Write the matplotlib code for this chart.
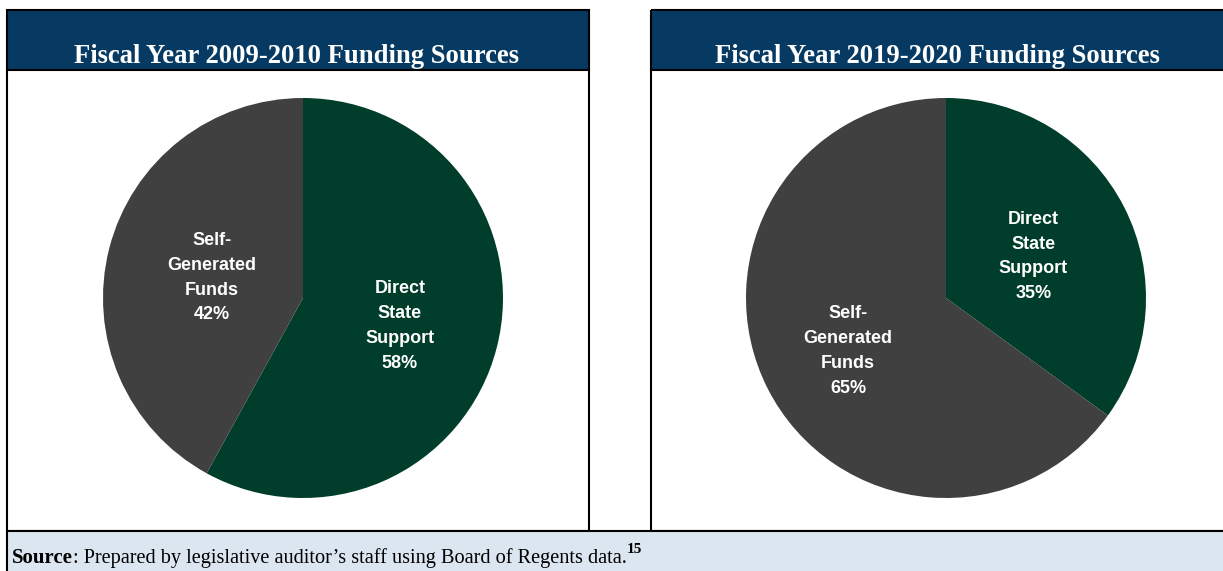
import numpy as np
from matplotlib import pyplot as plt
from matplotlib.patches import Rectangle

# data
titles = ['Fiscal Year 2009-2010 Funding Sources', 'Fiscal Year 2019-2020 Funding Sources']
categories = ['Direct\nState\nSupport', 'Self-\nGenerated\nFunds']
shares_2010 = [58, 42]
shares_2020 = [35, 65]
source_note = 'Prepared by legislative auditor\u2019s staff using Board of Regents data.'
footnote = '15'

# style
W, H = 1223, 571
navy = '#063a63'
green = '#003d2a'
gray = '#404040'
band = '#dce6f1'
label_dist = [[0.5, 0.47], [0.49, 0.55]]

fig = plt.figure(figsize=(W / 100, H / 100), dpi=100)
bg = fig.add_axes([0, 0, 1, 1])
bg.set_xlim(0, W)
bg.set_ylim(H, 0)
bg.axis('off')

panels = [(7, 589), (651, 1226)]
top, head_bot, body_bot = 10, 70, 531

for (x0, x1), title in zip(panels, titles):
    bg.add_patch(Rectangle((x0, top), x1 - x0, head_bot - top, facecolor=navy, edgecolor='none'))
    bg.add_patch(Rectangle((x0, top), x1 - x0, body_bot - top, facecolor='none',
                           edgecolor='black', linewidth=1.5))
    bg.plot([x0, x1], [head_bot, head_bot], color='black', linewidth=1.5)
    bg.text((x0 + x1) / 2 - 1, 63, title, color='white', ha='center', va='baseline',
            fontsize=19.2, fontweight='bold', family='Liberation Serif')

# source band
bg.add_patch(Rectangle((7, body_bot), W, H - body_bot + 5, facecolor=band,
                       edgecolor='black', linewidth=1.5))
t1 = bg.text(12, 563, 'Source', fontsize=15, fontweight='bold', family='Liberation Serif',
             va='baseline', ha='left')
t2 = bg.annotate(': ' + source_note, xy=(1, 0), xycoords=t1, va='bottom', ha='left',
                 fontsize=14.6, family='Liberation Serif')
bg.annotate(footnote, xy=(1, 0.6), xycoords=t2, va='bottom', ha='left',
            fontsize=11, fontweight='bold', family='Liberation Serif')

# pies
centers = [303, 946]
cy, r = 298, 200
for i, (cx, shares) in enumerate(zip(centers, [shares_2010, shares_2020])):
    ax = fig.add_axes([(cx - r) / W, 1 - (cy + r) / H, 2 * r / W, 2 * r / H])
    wedges, _ = ax.pie(shares, colors=[green, gray], startangle=90, counterclock=False,
                       radius=1, wedgeprops=dict(linewidth=0))
    ax.set_xlim(-1, 1)
    ax.set_ylim(-1, 1)
    ax.set_aspect('equal')
    for w, cat, v, d in zip(wedges, categories, shares, label_dist[i]):
        mid = np.deg2rad((w.theta1 + w.theta2) / 2)
        ax.text(d * np.cos(mid), d * np.sin(mid) - 0.015, f'{cat}\n{v}%', ha='center', va='center',
                color='white', fontsize=13, fontweight='bold', family='Liberation Sans',
                linespacing=1.6)

fig.savefig('out.png', dpi=100)
